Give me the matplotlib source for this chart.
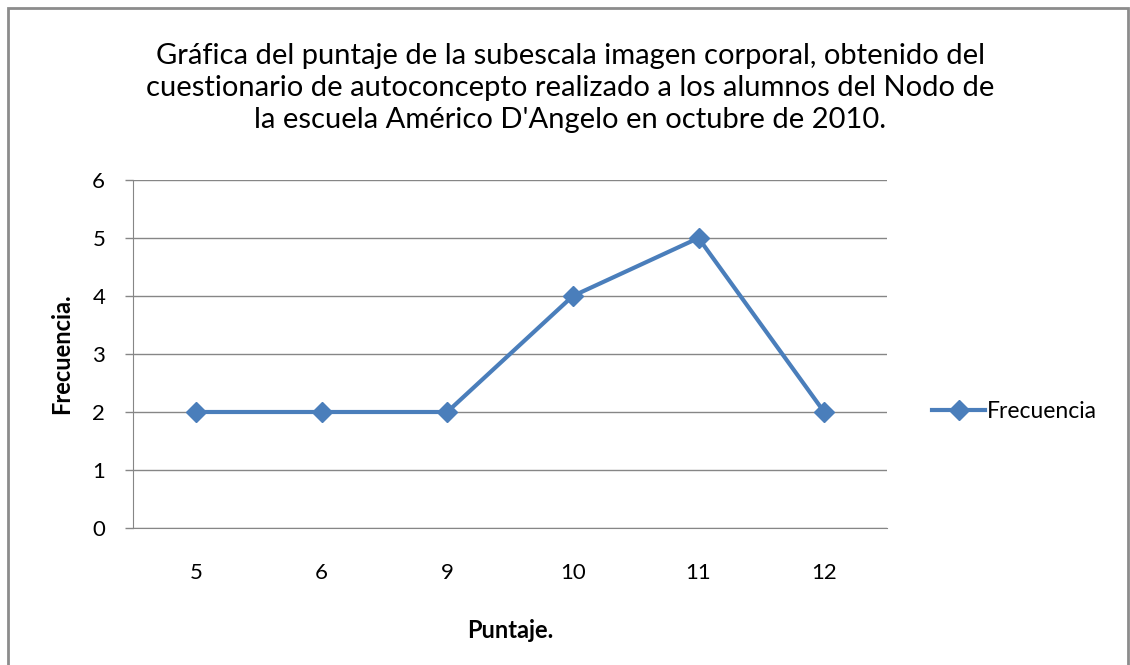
import matplotlib
matplotlib.use("Agg")
import matplotlib.pyplot as plt
from matplotlib.patches import Rectangle

plt.rcParams['font.family'] = ['Lato', 'DejaVu Sans']

# datos de la grafica
puntajes = ['5', '6', '9', '10', '11', '12']
frecuencia = [2, 2, 2, 4, 5, 2]

titulo = (u"Gráfica del puntaje de la subescala imagen corporal, obtenido del\n"
          u"cuestionario de autoconcepto realizado a los alumnos del Nodo de\n"
          u"la escuela Américo D'Angelo en octubre de 2010.")

azul = '#4a7ebb'
gris = '#868686'

fig = plt.figure(figsize=(11.3, 6.65), dpi=100)
# marco exterior del grafico
fig.patches.append(Rectangle((8 / 1130, -0.01), 1120 / 1130, 1 - 8 / 665 + 0.01,
                             transform=fig.transFigure, fill=False,
                             edgecolor='#8c8c8c', linewidth=2))

ax = fig.add_axes([133 / 1130, 137 / 665, 754 / 1130, 348 / 665])
x = range(len(puntajes))
ax.plot(x, frecuencia, color=azul, linewidth=3, marker='D', markersize=10,
        label='Frecuencia')

ax.set_xlim(-0.5, len(puntajes) - 0.5)
ax.set_ylim(0, 6)
ax.set_xticks(list(x))
ax.set_xticklabels(puntajes)
ax.set_yticks(range(0, 7))
ax.grid(axis='y', color=gris, linewidth=1)
ax.set_axisbelow(True)
for s in ['top', 'right']:
    ax.spines[s].set_visible(False)
for s in ['left', 'bottom']:
    ax.spines[s].set_color(gris)
ax.tick_params(axis='x', length=0, pad=25, labelsize=16, colors='#000000')
ax.tick_params(axis='y', length=6, width=1, color=gris, pad=14, labelsize=16)

ax.set_xlabel('Puntaje.', fontsize=17, fontweight='bold', labelpad=26)
ax.set_ylabel('Frecuencia.', fontsize=17, fontweight='bold', labelpad=14)

fig.text(570 / 1130, 1 - 88 / 665, titulo, ha='center', va='center',
         fontsize=21, linespacing=1.27)

ax.legend(loc='center left', bbox_to_anchor=(1.048, 0.335), frameon=False,
          fontsize=16.5, handlelength=2.3, handletextpad=0.1, borderaxespad=0)

fig.savefig('out.png', dpi=100)
